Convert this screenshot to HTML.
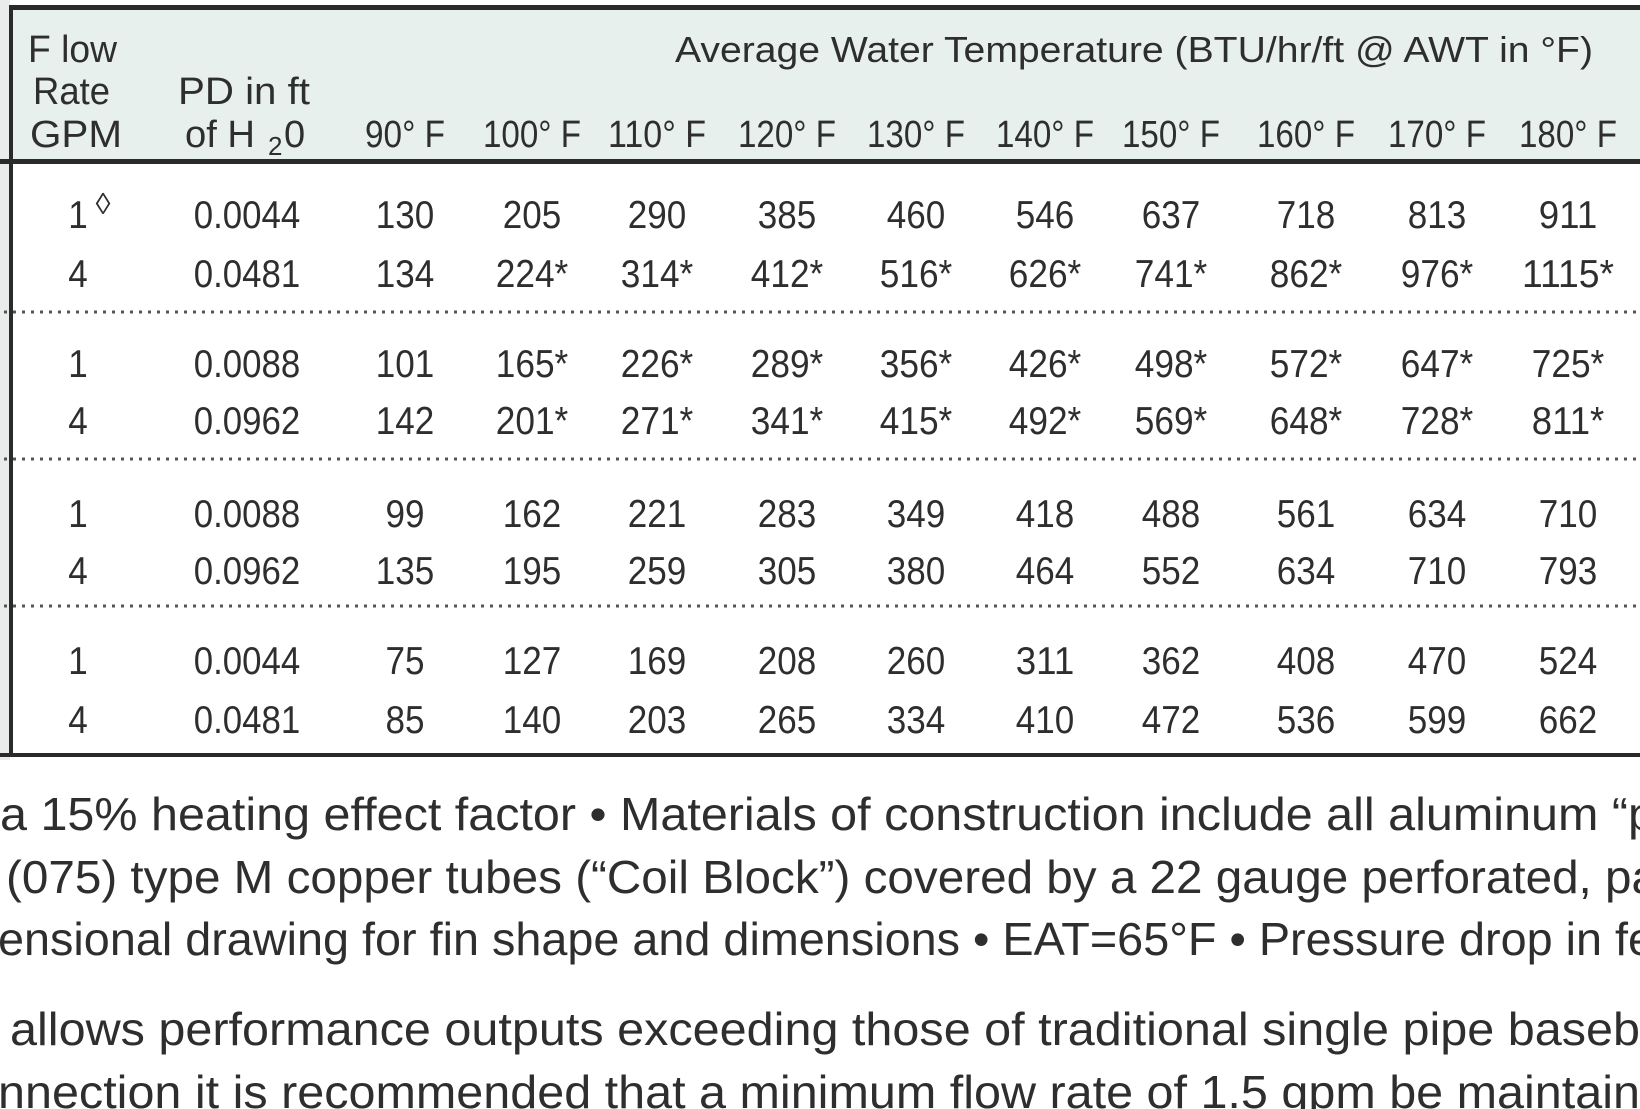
<!DOCTYPE html>
<html><head><meta charset="utf-8"><style>
html,body{margin:0;padding:0;background:#fff;width:1640px;height:1109px;overflow:hidden}
svg{display:block}
text{font-family:"Liberation Sans",sans-serif;fill:#2e2e2e}
</style></head><body>
<svg width="1640" height="1109" viewBox="0 0 1640 1109" xmlns="http://www.w3.org/2000/svg">
<rect x="0" y="0" width="1640" height="1109" fill="#fff"/>
<rect x="0" y="0" width="10" height="760" fill="#e9ecea"/>
<rect x="12" y="9" width="1628" height="151" fill="#e8f0ed"/>
<rect x="10" y="5" width="1630" height="5" fill="#2a2a2a"/>
<rect x="0" y="159" width="1640" height="5" fill="#2a2a2a"/>
<rect x="0" y="753" width="1640" height="4" fill="#2a2a2a"/>
<rect x="9" y="5" width="4" height="752" fill="#2a2a2a"/>
<g stroke="#555" stroke-width="3" stroke-dasharray="3 6">
<line x1="4" y1="312" x2="1640" y2="312"/>
<line x1="4" y1="459" x2="1640" y2="459"/>
<line x1="4" y1="606" x2="1640" y2="606"/>
</g>
<g font-size="38">
<text x="675" y="62" font-size="36" textLength="918" lengthAdjust="spacingAndGlyphs">Average Water Temperature (BTU/hr/ft @ AWT in °F)</text>
<text x="28" y="62" textLength="89" lengthAdjust="spacingAndGlyphs">F low</text>
<text x="33" y="104" textLength="77" lengthAdjust="spacingAndGlyphs">Rate</text>
<text x="30" y="147" textLength="92" lengthAdjust="spacingAndGlyphs">GPM</text>
<text x="178" y="104" textLength="132" lengthAdjust="spacingAndGlyphs">PD in ft</text>
<text x="185" y="147" textLength="70" lengthAdjust="spacingAndGlyphs">of H</text>
<text x="268" y="155" font-size="26">2</text>
<text x="284" y="147">0</text>
</g>
<g font-size="38" text-anchor="middle">
<text x="405" y="147" textLength="80" lengthAdjust="spacingAndGlyphs">90° F</text>
<text x="532" y="147" textLength="98" lengthAdjust="spacingAndGlyphs">100° F</text>
<text x="657" y="147" textLength="98" lengthAdjust="spacingAndGlyphs">110° F</text>
<text x="787" y="147" textLength="98" lengthAdjust="spacingAndGlyphs">120° F</text>
<text x="916" y="147" textLength="98" lengthAdjust="spacingAndGlyphs">130° F</text>
<text x="1045" y="147" textLength="98" lengthAdjust="spacingAndGlyphs">140° F</text>
<text x="1171" y="147" textLength="98" lengthAdjust="spacingAndGlyphs">150° F</text>
<text x="1306" y="147" textLength="98" lengthAdjust="spacingAndGlyphs">160° F</text>
<text x="1437" y="147" textLength="98" lengthAdjust="spacingAndGlyphs">170° F</text>
<text x="1568" y="147" textLength="98" lengthAdjust="spacingAndGlyphs">180° F</text>
</g>
<g id="data" font-size="39" text-anchor="middle"></g>
<text x="103" y="214" font-size="30" text-anchor="middle">◊</text>
<g font-size="46">
<text x="0" y="830" textLength="1655" lengthAdjust="spacingAndGlyphs">a 15% heating effect factor • Materials of construction include all aluminum “p</text>
<text x="6" y="893" textLength="1652" lengthAdjust="spacingAndGlyphs">(075) type M copper tubes (“Coil Block”) covered by a 22 gauge perforated, pa</text>
<text x="-2" y="955" textLength="1656" lengthAdjust="spacingAndGlyphs">ensional drawing for fin shape and dimensions • EAT=65°F • Pressure drop in fe</text>
<text x="10" y="1045" textLength="1630" lengthAdjust="spacingAndGlyphs">allows performance outputs exceeding those of traditional single pipe baseb</text>
<text x="-2" y="1108" textLength="1642" lengthAdjust="spacingAndGlyphs">nnection it is recommended that a minimum flow rate of 1.5 gpm be maintain</text>
</g>
</svg>
<script>
var cols=[78,247,405,532,657,787,916,1045,1171,1306,1437,1568];
var ys=[228,287,377,434,527,584,674,733];
var rows=[
["1","0.0044","130","205","290","385","460","546","637","718","813","911"],
["4","0.0481","134","224*","314*","412*","516*","626*","741*","862*","976*","1115*"],
["1","0.0088","101","165*","226*","289*","356*","426*","498*","572*","647*","725*"],
["4","0.0962","142","201*","271*","341*","415*","492*","569*","648*","728*","811*"],
["1","0.0088","99","162","221","283","349","418","488","561","634","710"],
["4","0.0962","135","195","259","305","380","464","552","634","710","793"],
["1","0.0044","75","127","169","208","260","311","362","408","470","524"],
["4","0.0481","85","140","203","265","334","410","472","536","599","662"]];
var g=document.getElementById("data"),ns="http://www.w3.org/2000/svg";
rows.forEach(function(r,i){r.forEach(function(s,j){
var t=document.createElementNS(ns,"text");t.setAttribute("x",cols[j]);t.setAttribute("y",ys[i]);
var w=0;for(var k=0;k<s.length;k++){var c=s[k];w+=c=="."?9:(c=="*"?14:19.5);}
t.setAttribute("textLength",w);t.setAttribute("lengthAdjust","spacingAndGlyphs");
t.textContent=s;g.appendChild(t);});});
</script>
</body></html>
